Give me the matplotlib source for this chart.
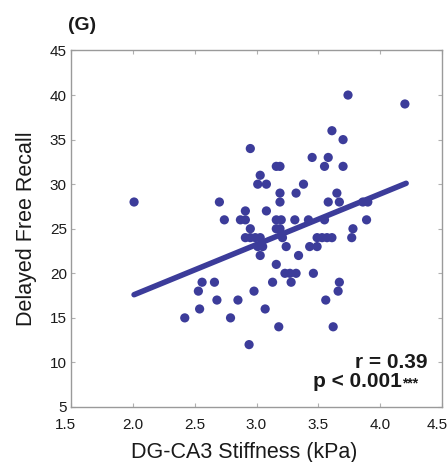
import matplotlib
matplotlib.use("Agg")
import matplotlib.pyplot as plt
from matplotlib.transforms import ScaledTranslation

plt.rcParams['font.family'] = ['Liberation Sans', 'DejaVu Sans']

# DG-CA3 stiffness (kPa) and delayed free recall score per participant
stiffness = [
    3.74, 4.20, 3.61, 3.70, 2.95,
    3.45, 3.58,
    3.16, 3.19, 3.55, 3.70,
    3.03,
    3.01, 3.08, 3.38,
    3.19, 3.32, 3.65,
    2.01, 2.70, 3.19, 3.58, 3.67, 3.86, 3.90,
    2.91, 3.08,
    2.74, 2.87, 2.91, 3.16, 3.20, 3.31, 3.42, 3.55, 3.89,
    2.95, 3.16, 3.19, 3.78,
    2.91, 2.95, 2.99, 3.03, 3.21, 3.49, 3.53, 3.57, 3.61, 3.77,
    3.01, 3.05, 3.24, 3.43, 3.49,
    3.03, 3.34,
    3.16,
    3.23, 3.27, 3.32, 3.46,
    2.56, 2.66, 3.13, 3.28, 3.67,
    2.53, 2.98, 3.66,
    2.68, 2.85, 3.56,
    2.54, 3.07,
    2.42, 2.79,
    3.18, 3.62,
    2.94,
]
recall = [
    40, 39, 36, 35, 34,
    33, 33,
    32, 32, 32, 32,
    31,
    30, 30, 30,
    29, 29, 29,
    28, 28, 28, 28, 28, 28, 28,
    27, 27,
    26, 26, 26, 26, 26, 26, 26, 26, 26,
    25, 25, 25, 25,
    24, 24, 24, 24, 24, 24, 24, 24, 24, 24,
    23, 23, 23, 23, 23,
    22, 22,
    21,
    20, 20, 20, 20,
    19, 19, 19, 19, 19,
    18, 18, 18,
    17, 17, 17,
    16, 16,
    15, 15,
    14, 14,
    12,
]

# least-squares fit line endpoints
fit_x = [2.01, 4.21]
fit_y = [17.6, 30.1]

x_ticks = [1.5, 2.0, 2.5, 3.0, 3.5, 4.0, 4.5]
y_ticks = [5, 10, 15, 20, 25, 30, 35, 40, 45]

color = '#3c3c9a'
text_color = '#1a1a1a'

fig = plt.figure(figsize=(4.47, 4.62), dpi=100)
ax = fig.add_axes([71 / 447, 55 / 462, 371 / 447, 356.5 / 462])

ax.scatter(stiffness, recall, s=44, color=color, edgecolors='none', zorder=3)
ax.plot(fit_x, fit_y, color=color, lw=4.0, solid_capstyle='round', zorder=2)

ax.set_xlim(1.5, 4.5)
ax.set_ylim(5, 45)
ax.set_xticks(x_ticks)
ax.set_xticklabels([f"{t:.1f}" for t in x_ticks])
ax.set_yticks(y_ticks)
ax.set_yticklabels([str(t) for t in y_ticks])

for sp in ax.spines.values():
    sp.set_color('#9a9a9a')
    sp.set_linewidth(1.0)
ax.tick_params(direction='in', top=True, right=True, length=3, width=0.8,
               color='#b0b0b0', labelsize=11, labelcolor=text_color)
ax.tick_params(axis='x', pad=8)
ax.tick_params(axis='y', pad=3)

# pull the outermost x tick labels inward so they stay inside the figure
xlabels = ax.get_xticklabels()
xlabels[0].set_transform(xlabels[0].get_transform()
                         + ScaledTranslation(-6 / 100, 0, fig.dpi_scale_trans))
xlabels[-1].set_transform(xlabels[-1].get_transform()
                          + ScaledTranslation(-5 / 100, 0, fig.dpi_scale_trans))

ax.set_xlabel('DG-CA3 Stiffness (kPa)', fontsize=15.5, color=text_color)
ax.xaxis.set_label_coords(0.466, -0.143)
ax.xaxis.label.set_va('baseline')
ax.set_ylabel('Delayed Free Recall', fontsize=15.5, color=text_color, labelpad=9)

ax.text(0.962, 0.109, 'r = 0.39', transform=ax.transAxes, ha='right',
        va='baseline', fontsize=15, fontweight='bold', color=text_color)
ax.text(0.892, 0.056, 'p < 0.001', transform=ax.transAxes, ha='right',
        va='baseline', fontsize=15, fontweight='bold', color=text_color)
ax.text(0.892, 0.056, '***', transform=ax.transAxes, ha='left',
        va='baseline', fontsize=10, fontweight='bold', color=text_color)

fig.text(68 / 447, 1 - 30 / 462, '(G)', ha='left', va='baseline',
         fontsize=14, fontweight='bold', color=text_color)

fig.savefig('out.png', dpi=100)
